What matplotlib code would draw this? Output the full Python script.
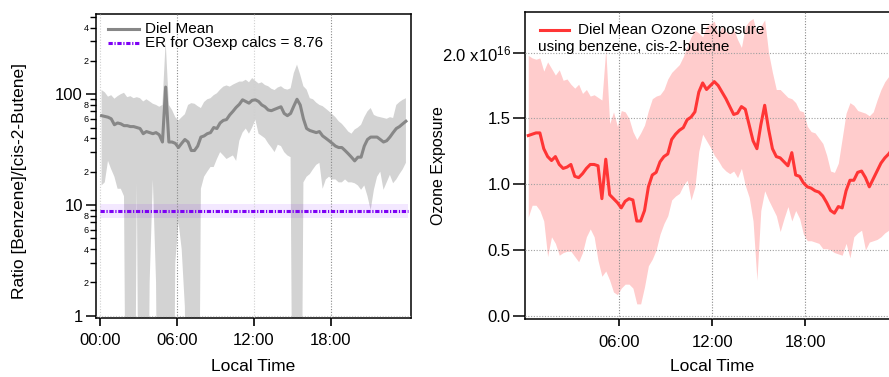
import numpy as np
import matplotlib
matplotlib.use("Agg")
import matplotlib.pyplot as plt
from matplotlib.ticker import FixedLocator, FixedFormatter

plt.rcParams['font.family'] = ['Liberation Sans', 'DejaVu Sans']
plt.rcParams['mathtext.fontset'] = 'custom'
plt.rcParams['mathtext.rm'] = 'Liberation Sans'
plt.rcParams['mathtext.default'] = 'regular'

# 15-minute bin centres, local time in hours
hours = np.arange(0.125, 24.0, 0.25)

# Diel benzene / cis-2-butene ratio: mean and lower / upper envelope
ratio_mean = [64, 63, 62, 60, 53, 55, 54, 52, 52, 51, 51, 50, 49, 44, 46, 45,
              44, 45, 43, 37, 116, 37, 37, 36, 33, 36, 39, 37, 31, 31, 34, 41,
              42, 44, 45, 50, 49, 55, 58, 59, 65, 70, 76, 81, 89, 86, 83, 88,
              89, 86, 80, 77, 72, 71, 73, 75, 77, 67, 64, 67, 78, 90, 80, 60,
              49, 47, 46, 45, 46, 42, 40, 38, 36, 34, 33, 33, 31, 29, 27, 25,
              27, 27, 34, 39, 41, 41, 41, 39, 37, 38, 41, 45, 49, 51, 54, 57]
ratio_hi = [109, 104, 95, 98, 91, 96, 100, 103, 94, 96, 92, 94, 92, 86, 90, 86,
            82, 80, 77, 80, 300, 80, 72, 62, 58, 62, 66, 80, 83, 82, 78, 75,
            85, 90, 92, 98, 102, 110, 117, 120, 117, 122, 126, 130, 130, 135, 128, 140,
            132, 125, 128, 121, 118, 112, 109, 115, 118, 112, 110, 113, 155, 185, 150, 118,
            110, 92, 90, 84, 80, 78, 74, 70, 66, 62, 57, 54, 50, 46, 44, 48,
            50, 53, 62, 70, 75, 65, 63, 62, 61, 60, 62, 61, 80, 85, 89, 92]
ratio_lo = [15, 16, 25, 21, 18, 14, 14, 12, 1e-3, 1e-3, 1e-3, 16, 1e-3, 1e-3, 1e-3, 2,
            17, 2, 1e-3, 1e-3, 1e-3, 1e-3, 1e-3, 3, 7, 4, 1.2, 1e-3, 1e-3, 1e-3, 1e-3, 14,
            18, 20, 22, 22, 26, 30, 28, 26, 27, 28, 25, 38, 45, 49, 44, 50,
            59, 44, 42, 40, 36, 33, 30, 35, 34, 30, 28, 27, 1e-3, 1e-3, 1e-3, 16,
            18, 19, 21, 23, 24, 14, 17, 18, 17, 17, 16, 16, 17, 16, 16, 15.7,
            15, 13.7, 15, 12, 9, 13.7, 18, 20, 13.7, 16, 18.7, 15.7, 17, 19, 21, 24]

# Emission ratio used for the ozone-exposure calculation and its range
er_value = 8.76
er_range = [7.6, 10.1]

# Diel ozone exposure (units of 1e16): mean and lower / upper envelope
o3_mean = [1.37, 1.38, 1.39, 1.39, 1.27, 1.21, 1.18, 1.21, 1.15, 1.12, 1.13, 1.15, 1.06, 1.05, 1.08, 1.12,
           1.15, 1.15, 1.14, 0.89, 1.19, 0.92, 0.89, 0.86, 0.82, 0.87, 0.89, 0.88, 0.72, 0.72, 0.80, 0.98,
           1.07, 1.09, 1.17, 1.21, 1.23, 1.34, 1.38, 1.41, 1.43, 1.49, 1.51, 1.55, 1.70, 1.77, 1.72, 1.75,
           1.78, 1.75, 1.70, 1.65, 1.59, 1.53, 1.54, 1.59, 1.57, 1.45, 1.33, 1.27, 1.45, 1.60, 1.42, 1.27,
           1.21, 1.20, 1.17, 1.14, 1.24, 1.07, 1.06, 1.01, 0.98, 0.97, 0.95, 0.94, 0.91, 0.86, 0.80, 0.78,
           0.83, 0.82, 0.95, 1.03, 1.03, 1.09, 1.10, 1.05, 0.98, 1.04, 1.10, 1.16, 1.20, 1.23, 1.27, 1.33]
o3_hi = [1.98, 1.96, 1.95, 1.96, 1.86, 1.93, 1.88, 1.83, 1.87, 1.79, 1.80, 1.76, 1.73, 1.76, 1.69, 1.72,
         1.67, 1.68, 1.66, 1.64, 2.03, 1.46, 1.55, 1.44, 1.56, 1.55, 1.50, 1.40, 1.34, 1.39, 1.45, 1.56,
         1.65, 1.67, 1.68, 1.72, 1.80, 1.85, 1.88, 1.91, 1.97, 2.05, 2.12, 2.17, 2.15, 2.12, 2.20, 2.22,
         2.24, 2.14, 2.20, 2.16, 2.14, 2.18, 2.10, 2.04, 2.20, 2.24, 2.26, 2.14, 2.20, 2.25, 2.00, 1.85,
         1.72, 1.72, 1.69, 1.66, 1.65, 1.62, 1.56, 1.55, 1.44, 1.40, 1.39, 1.35, 1.31, 1.22, 1.10, 1.09,
         1.16, 1.35, 1.54, 1.62, 1.60, 1.56, 1.55, 1.54, 1.52, 1.55, 1.64, 1.72, 1.78, 1.82, 1.86, 1.92]
o3_lo = [0.75, 0.84, 0.84, 0.80, 0.72, 0.45, 0.60, 0.55, 0.46, 0.48, 0.49, 0.49, 0.45, 0.41, 0.48, 0.60,
         0.66, 0.60, 0.42, 0.30, 0.34, 0.27, 0.18, 0.16, 0.21, 0.24, 0.24, 0.21, 0.09, 0.09, 0.22, 0.38,
         0.43, 0.50, 0.62, 0.70, 0.76, 0.88, 0.91, 0.93, 0.99, 1.03, 0.88, 0.98, 1.25, 1.38, 1.33, 1.28,
         1.22, 1.18, 1.13, 1.10, 1.08, 1.10, 1.05, 1.12, 0.99, 0.90, 0.72, 0.27, 0.80, 0.95, 0.88, 0.82,
         0.76, 0.64, 0.74, 0.83, 0.72, 0.80, 0.74, 0.62, 0.57, 0.57, 0.56, 0.55, 0.51, 0.51, 0.50, 0.48,
         0.47, 0.46, 0.55, 0.44, 0.60, 0.63, 0.65, 0.50, 0.56, 0.57, 0.58, 0.60, 0.63, 0.65, 0.68, 0.72]

time_ticks = [0, 6, 12, 18]
time_labels = ["00:00", "06:00", "12:00", "18:00"]
o3_ticks = [0.0, 0.5, 1.0, 1.5, 2.0]
o3_labels = ["0.0", "0.5", "1.0", "1.5", r"2.0 x10$^{16}$"]

GRAY_FILL = '#d3d3d3'
GRAY_LINE = '#878787'
PURPLE = '#7d00f5'
RED = '#ff3535'
ER_DASH = (0, (1.4, 0.55, 0.4, 0.55))

fig = plt.figure(figsize=(8.89, 3.77), dpi=100)

# ---------------- left panel: benzene / cis-2-butene ratio ----------------
ax1 = fig.add_axes([0.108, 0.1565, 0.3543, 0.8064])
ax1.set_yscale('log')
ax1.fill_between(hours, ratio_lo, ratio_hi, color=GRAY_FILL, lw=0, zorder=1)
ax1.fill_between([0, 24], [er_range[0]] * 2, [er_range[1]] * 2,
                 color=(0.5, 0.0, 1.0, 0.09), lw=0, zorder=2)
for t, c in [(0, '#d0d0d0'), (6, '#8a8a8a'), (12, '#d0d0d0'), (18, '#8a8a8a')]:
    ax1.axvline(t, color=c, lw=0.8, ls=(0, (1, 1.5)), zorder=3)
ax1.axhline(1, color='#c8c8c8', lw=0.8, ls=(0, (1, 1.5)), zorder=3)
ax1.plot([0, 24], [er_value, er_value], color=PURPLE, lw=2.2, ls=ER_DASH, zorder=4)
ax1.plot(hours, ratio_mean, color=GRAY_LINE, lw=2.2, zorder=5,
         solid_joinstyle='round')

ax1.set_xlim(-0.31, 24.27)
ax1.set_ylim(0.953, 530)
ax1.set_xticks(time_ticks)
ax1.set_xticklabels(time_labels)
ax1.yaxis.set_major_locator(FixedLocator([1, 10, 100]))
ax1.yaxis.set_major_formatter(FixedFormatter(["1", "10", "100"]))
minor_mult = [m for d in (1, 10, 100) for m in range(2, 10) if m * d <= 500]
minor_vals = [m * d for d in (1, 10, 100) for m in range(2, 10) if m * d <= 500]
minor_labs = [str(m) if m % 2 == 0 else "" for m in minor_mult]
ax1.yaxis.set_minor_locator(FixedLocator(minor_vals))
ax1.yaxis.set_minor_formatter(FixedFormatter(minor_labs))
ax1.tick_params(axis='y', which='major', direction='out', length=7.5, width=1.1,
                labelsize=12, pad=2)
ax1.tick_params(axis='y', which='minor', direction='out', length=4, width=1.0,
                labelsize=6.5, pad=1.5)
ax1.tick_params(axis='x', which='major', direction='out', length=6, width=1.2,
                labelsize=12, pad=5)
for s in ax1.spines.values():
    s.set_linewidth(1.1)
ax1.set_xlabel("Local Time", fontsize=12.5)
ax1.xaxis.set_label_coords(0.5, -0.135)
ax1.xaxis.label.set_va('top')
ax1.set_ylabel("Ratio [Benzene]/[cis-2-Butene]", fontsize=12.5)
ax1.yaxis.set_label_coords(-0.22, 0.45)

# legend
ax1.plot([0.038, 0.137], [0.949, 0.949], transform=ax1.transAxes,
         color=GRAY_LINE, lw=2.2, clip_on=False)
ax1.text(0.156, 0.949, "Diel Mean", transform=ax1.transAxes,
         fontsize=11, va='center', ha='left')
ax1.plot([0.038, 0.137], [0.905, 0.905], transform=ax1.transAxes,
         color=PURPLE, lw=2.2, ls=ER_DASH, clip_on=False)
ax1.text(0.156, 0.905, "ER for O3exp calcs = %.2f" % er_value,
         transform=ax1.transAxes, fontsize=11, va='center', ha='left')

# ---------------- right panel: ozone exposure ----------------
ax2 = fig.add_axes([0.5909, 0.1531, 0.4249, 0.8143])
ax2.fill_between(hours, o3_lo, o3_hi, color=(1.0, 0.0, 0.0, 0.2), lw=0, zorder=1)
for t in [6, 12, 18]:
    ax2.axvline(t, color='#8a8a8a', lw=0.8, ls=(0, (1, 1.5)), zorder=3)
for v in o3_ticks:
    ax2.axhline(v, color='#a0a0a0', lw=0.8, ls=(0, (1, 1.5)), zorder=3)
ax2.plot(hours, o3_mean, color=RED, lw=2.2, zorder=5, solid_joinstyle='round')

ax2.set_xlim(-0.065, 24.3)
ax2.set_ylim(-0.027, 2.307)
ax2.set_xticks([6, 12, 18])
ax2.set_xticklabels(["06:00", "12:00", "18:00"])
ax2.set_yticks(o3_ticks)
ax2.set_yticklabels(o3_labels)
ax2.tick_params(axis='y', direction='out', length=8.4, width=1.1,
                labelsize=12, pad=2)
ax2.tick_params(axis='x', direction='out', length=5.2, width=1.2,
                labelsize=12, pad=6)
for s in ax2.spines.values():
    s.set_linewidth(1.1)
ax2.set_xlabel("Local Time", fontsize=12.5)
ax2.xaxis.set_label_coords(0.495, -0.13)
ax2.xaxis.label.set_va('top')
ax2.set_ylabel("Ozone Exposure", fontsize=11.5)
ax2.yaxis.set_label_coords(-0.21, 0.5)

# legend
ax2.plot([0.039, 0.116], [0.942, 0.942], transform=ax2.transAxes,
         color=RED, lw=2.2, clip_on=False)
ax2.text(0.1395, 0.942, "Diel Mean Ozone Exposure", transform=ax2.transAxes,
         fontsize=11, va='center', ha='left')
ax2.text(0.0344, 0.888, "using benzene, cis-2-butene", transform=ax2.transAxes,
         fontsize=11, va='center', ha='left')

fig.savefig("out.png", dpi=100)
